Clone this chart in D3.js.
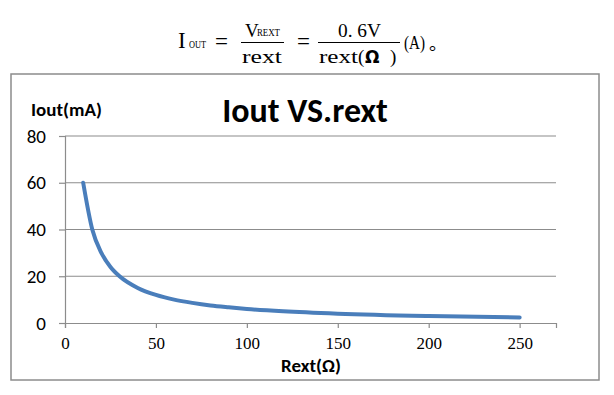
<!DOCTYPE html>
<html>
<head>
<meta charset="utf-8">
<script src="https://cdn.jsdelivr.net/npm/d3@7"></script>
<style>
  body { margin: 0; background: #fff; }
</style>
</head>
<body>
<div id="main"></div>
<script>
// data
var rext = [10, 15, 20, 25, 30, 40, 50, 60, 70, 80, 90, 100, 120, 150, 200, 250];
var iout = [60, 40, 30, 24, 20, 15, 12, 10, 8.6, 7.5, 6.7, 6, 5, 4, 3, 2.4];
var xTicks = [0, 50, 100, 150, 200, 250];
var yTicks = [0, 20, 40, 60, 80];

var width = 614, height = 395;
var svg = d3.select("#main").append("svg")
  .attr("width", width).attr("height", height);

// formula above the chart
var serif = "'Liberation Serif', 'DejaVu Serif', serif";
var f = svg.append("g").style("font-family", serif).style("fill", "#000");
f.append("text").attr("x", 178).attr("y", 48).style("font-size", "23px").text("I");
f.append("text").attr("x", 189).attr("y", 48).style("font-size", "11px")
  .attr("textLength", 17).attr("lengthAdjust", "spacingAndGlyphs").text("OUT");
f.append("text").attr("x", 215).attr("y", 49).style("font-size", "23px").text("=");
f.append("text").attr("x", 245).attr("y", 37).style("font-size", "19px").text("V");
f.append("text").attr("x", 257).attr("y", 36).style("font-size", "11px")
  .attr("textLength", 23).attr("lengthAdjust", "spacingAndGlyphs").text("REXT");
f.append("line").attr("x1", 241).attr("x2", 284).attr("y1", 42.5).attr("y2", 42.5)
  .attr("stroke", "#000").attr("stroke-width", 1);
f.append("text").attr("x", 242).attr("y", 63).style("font-size", "19px")
  .attr("textLength", 40).attr("lengthAdjust", "spacingAndGlyphs").text("rext");
f.append("text").attr("x", 297).attr("y", 49).style("font-size", "23px").text("=");
f.append("text").attr("x", 338).attr("y", 37).style("font-size", "19px")
  .attr("textLength", 43).attr("lengthAdjust", "spacingAndGlyphs").text("0. 6V");
f.append("line").attr("x1", 318).attr("x2", 400).attr("y1", 42.5).attr("y2", 42.5)
  .attr("stroke", "#000").attr("stroke-width", 1);
f.append("text").attr("x", 319).attr("y", 63).style("font-size", "19px")
  .attr("textLength", 39).attr("lengthAdjust", "spacingAndGlyphs").text("rext");
f.append("text").attr("x", 358).attr("y", 63).style("font-size", "19px").text("(");
f.append("text").attr("x", 365).attr("y", 63).style("font-size", "17px")
  .style("font-family", "'DejaVu Sans'").style("font-weight", "bold").text("Ω");
f.append("text").attr("x", 390).attr("y", 63).style("font-size", "19px").text(")");
f.append("text").attr("x", 404).attr("y", 49).style("font-size", "19px")
  .attr("textLength", 21).attr("lengthAdjust", "spacingAndGlyphs").text("(A)");
f.append("text").attr("x", 429).attr("y", 50).style("font-size", "18px")
  .style("font-family", "'Noto Sans CJK SC'").text("。");

// chart frame
svg.append("rect")
  .attr("x", 11).attr("y", 74).attr("width", 588).attr("height", 306)
  .attr("fill", "#fff").attr("stroke", "#8c8c8c").attr("stroke-width", 1.5);

var x = d3.scaleLinear().domain([0, 270]).range([65, 556]);
var y = d3.scaleLinear().domain([0, 80]).range([323, 136]);

var sans = "Carlito, 'Open Sans', 'Liberation Sans', sans-serif";

// gridlines
svg.append("g").selectAll("line").data(yTicks.filter(function (d) { return d > 0; }))
  .enter().append("line")
  .attr("x1", x(0)).attr("x2", x(270))
  .attr("y1", function (d) { return y(d); }).attr("y2", function (d) { return y(d); })
  .attr("stroke", "#8c8c8c").attr("stroke-width", 1.2);

// axes
var yAxis = svg.append("g").attr("transform", "translate(" + x(0) + ",0)")
  .call(d3.axisLeft(y).tickValues(yTicks).tickSize(6).tickPadding(13));
yAxis.select(".domain").attr("stroke", "#8c8c8c").attr("stroke-width", 1.2);
yAxis.selectAll(".tick line").attr("stroke", "#8c8c8c").attr("stroke-width", 1.2);
yAxis.selectAll(".tick text")
  .style("font-family", sans).style("font-size", "19px").attr("fill", "#000")
  .attr("dy", "0.32em");

var xAxis = svg.append("g").attr("transform", "translate(0," + y(0) + ")")
  .call(d3.axisBottom(x).tickValues(xTicks).tickSize(5).tickPadding(9));
xAxis.select(".domain").attr("stroke", "#8c8c8c").attr("stroke-width", 1.2);
xAxis.selectAll(".tick line").attr("stroke", "#8c8c8c").attr("stroke-width", 1.2);
xAxis.selectAll(".tick text")
  .style("font-family", serif).style("font-size", "17px").attr("fill", "#000");

// curve
var line = d3.line()
  .x(function (d, i) { return x(rext[i]); })
  .y(function (d) { return y(d); })
  .curve(d3.curveMonotoneX);
svg.append("path").datum(iout)
  .attr("d", line)
  .attr("fill", "none")
  .attr("stroke", "#4a7ebb")
  .attr("stroke-width", 4)
  .attr("stroke-linecap", "round");

// titles
svg.append("text").attr("x", 305).attr("y", 122).attr("text-anchor", "middle")
  .style("font-family", sans).style("font-weight", "bold").style("font-size", "34px")
  .text("Iout VS.rext");
svg.append("text").attr("x", 31).attr("y", 116)
  .style("font-family", sans).style("font-weight", "bold").style("font-size", "19px")
  .text("Iout(mA)");
svg.append("text").attr("x", 311).attr("y", 372).attr("text-anchor", "middle")
  .style("font-family", sans).style("font-weight", "bold").style("font-size", "19px")
  .text("Rext(Ω)");
</script>
</body>
</html>
